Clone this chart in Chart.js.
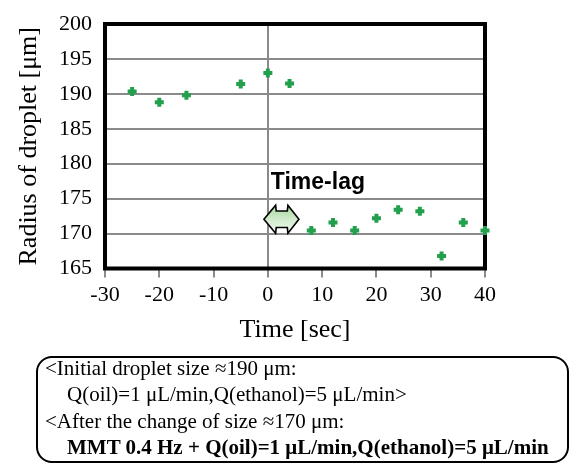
<!DOCTYPE html>
<html>
<head>
<meta charset="utf-8">
<script src="https://cdn.jsdelivr.net/npm/chart.js@4.4.0/dist/chart.umd.min.js"></script>
<style>
  html, body { margin:0; padding:0; background:#fff; }
  #wrap { position:relative; width:569px; height:463px; overflow:hidden; }
  #c { position:absolute; left:0; top:0; }
  #box { position:absolute; left:36px; top:356px; width:529px; height:103px;
         border:2px solid #000; border-radius:16px; box-sizing:content-box; }
  #txt { position:absolute; left:45px; top:355px; font-family:"Liberation Serif","Times New Roman",serif;
         font-size:21px; line-height:26.4px; color:#000; white-space:nowrap; }
  #txt .ind { padding-left:22px; }
  #txt .b { font-weight:bold; }
</style>
</head>
<body>
<div id="wrap">
  <canvas id="c" width="569" height="463"></canvas>
  <div id="box"></div>
  <div id="txt">
    <div>&lt;Initial droplet size ≈190 μm:</div>
    <div class="ind">Q(oil)=1 μL/min,Q(ethanol)=5 μL/min&gt;</div>
    <div>&lt;After the change of size ≈170 μm:</div>
    <div class="ind b">MMT 0.4 Hz + Q(oil)=1 μL/min,Q(ethanol)=5 μL/min</div>
  </div>
</div>
<script>
// ---- data ----
const timeSec   = [-25, -20, -15, -5, 0, 4, 8, 12, 16, 20, 24, 28, 32, 36, 40];
const radiusUm  = [190.35, 188.8, 189.8, 191.4, 193.0, 191.5, 170.45, 171.6, 170.45, 172.2, 173.4, 173.2, 166.8, 171.6, 170.45];
const xTicks    = [-30, -20, -10, 0, 10, 20, 30, 40];
const yTicks    = [165, 170, 175, 180, 185, 190, 195, 200];
const xTitle    = 'Time [sec]';
const yTitle    = 'Radius of droplet [μm]';
const lagLabel  = 'Time-lag';
// annotation anchor (data units)
const lagLabelAt = {x: 0.55, y: 177.3};
const lagArrowAt = {x: 2.5, y: 172.05};

const serif = '"Liberation Serif","Times New Roman",serif';

const frame = {
  id: 'frame',
  beforeDatasetsDraw(chart) {
    const {ctx, chartArea: a} = chart;
    ctx.save();
    ctx.strokeStyle = '#000';
    ctx.lineWidth = 4;
    ctx.strokeRect(a.left, a.top, a.right - a.left, a.bottom - a.top);
    ctx.restore();
  },
  afterDatasetsDraw(chart) {
    const {ctx, scales: {x, y}} = chart;
    ctx.save();
    // label
    ctx.font = 'bold 23px "Liberation Sans", Arial, sans-serif';
    ctx.fillStyle = '#000';
    ctx.textAlign = 'left';
    ctx.textBaseline = 'middle';
    ctx.fillText(lagLabel, x.getPixelForValue(lagLabelAt.x), y.getPixelForValue(lagLabelAt.y));
    // double arrow
    const cx = x.getPixelForValue(lagArrowAt.x), cy = y.getPixelForValue(lagArrowAt.y);
    const pts = [[-17.5,0],[-5.8,-14],[-5.2,-8.3],[5.9,-8.3],[6.5,-14],[17.5,0],
                 [6.5,14],[5.9,8.3],[-5.2,8.3],[-5.8,14]];
    ctx.beginPath();
    pts.forEach((p,i) => i ? ctx.lineTo(cx+p[0], cy+p[1]) : ctx.moveTo(cx+p[0], cy+p[1]));
    ctx.closePath();
    const g = ctx.createLinearGradient(0, cy-14, 0, cy+14);
    g.addColorStop(0, '#a6d79c');
    g.addColorStop(0.55, '#d4ecd0');
    g.addColorStop(1, '#f4fbf3');
    ctx.fillStyle = g;
    ctx.fill();
    ctx.lineWidth = 1.6;
    ctx.strokeStyle = '#000';
    ctx.lineJoin = 'miter';
    ctx.stroke();
    ctx.restore();
  }
};

new Chart(document.getElementById('c'), {
  type: 'scatter',
  data: {
    datasets: [{
      data: timeSec.map((t, i) => ({x: t, y: radiusUm[i]})),
      pointStyle: 'cross',
      pointRadius: 4.5,
      pointBorderWidth: 4,
      borderColor: '#22a04e',
      backgroundColor: '#22a04e',
      clip: false
    }]
  },
  options: {
    responsive: false,
    animation: false,
    events: [],
    layout: { padding: { top: 12, right: 84, bottom: 114.5, left: 0 } },
    plugins: { legend: { display: false }, tooltip: { enabled: false } },
    scales: {
      x: {
        type: 'linear', min: -30, max: 40,
        afterBuildTicks: s => { s.ticks = xTicks.map(v => ({value: v})); },
        afterFit: s => { s.height = 80; },
        border: { display: false },
        grid: {
          color: c => (c.tick && c.tick.value === 0) ? '#8a8a8a' : 'rgba(0,0,0,0)',
          lineWidth: 2,
          drawTicks: true,
          tickLength: 9,
          tickColor: '#8a8a8a',
          tickWidth: 2
        },
        ticks: { color: '#000', padding: 6.5, maxRotation: 0, autoSkip: false,
                 font: { family: serif, size: 22, lineHeight: 1.0 } },
        title: { display: true, text: xTitle, color: '#000',
                 font: { family: serif, size: 26, lineHeight: 1.0 },
                 padding: { top: 0, bottom: 5.5 } }
      },
      y: {
        type: 'linear', min: 165, max: 200,
        afterBuildTicks: s => { s.ticks = yTicks.map(v => ({value: v})); },
        afterFit: s => { s.width = 105; },
        border: { display: false },
        grid: { color: '#8a8a8a', lineWidth: 2, drawTicks: false },
        ticks: { color: '#000', padding: 13, autoSkip: false,
                 font: { family: serif, size: 22, lineHeight: 1.0 } },
        title: { display: true, text: yTitle, color: '#000',
                 font: { family: serif, size: 26, lineHeight: 1.0 },
                 padding: { top: 16.5, bottom: 0 } }
      }
    }
  },
  plugins: [frame]
});
</script>
</body>
</html>
